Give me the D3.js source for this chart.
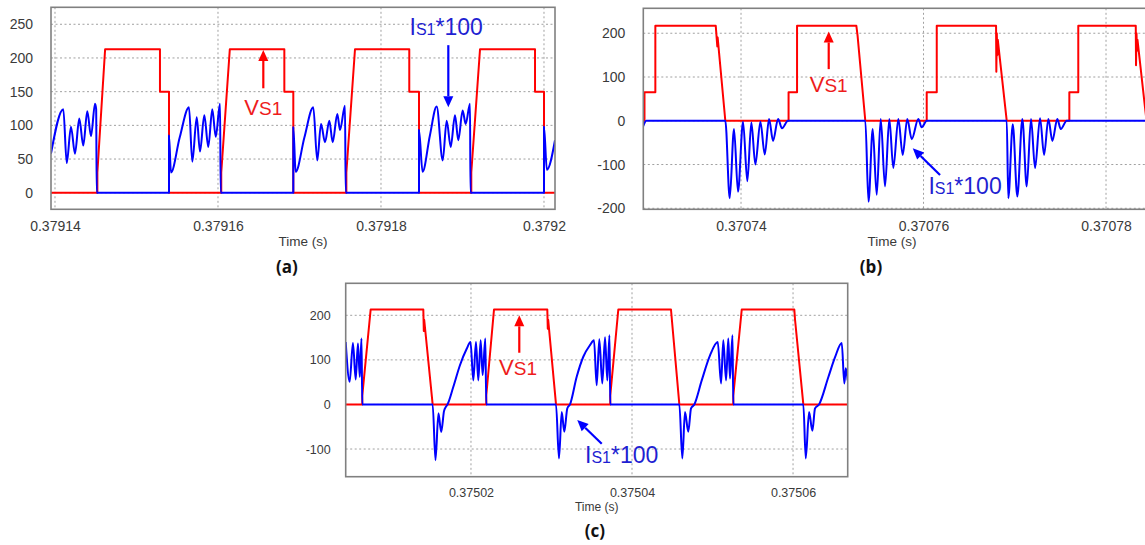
<!DOCTYPE html>
<html><head><meta charset="utf-8">
<script src="https://cdn.jsdelivr.net/npm/d3@7"></script>
<style>body{margin:0;background:#fff}svg{display:block}</style>
</head><body>
<svg id="chart" width="1145" height="545"></svg>
<script>
// ---------- data (time in s, value) ----------
const aTimeTicks = [0.37914, 0.37916, 0.37918, 0.3792];
const aValueTicks = [0, 50, 100, 150, 200, 250];
const aVs1 = [
[0.37913951,0],[0.37914520,0],[0.37914520,30],[0.37914615,213],[0.37915288,213],[0.37915288,150],[0.37915399,150],[0.37915399,0],
[0.37916040,0],[0.37916040,30],[0.37916145,213],[0.37916814,213],[0.37916814,150],[0.37916924,150],[0.37916924,0],
[0.37917575,0],[0.37917575,30],[0.37917681,213],[0.37918347,213],[0.37918347,150],[0.37918466,150],[0.37918466,0],
[0.37919108,0],[0.37919108,30],[0.37919215,213],[0.37919890,213],[0.37919890,150],[0.37920000,150],[0.37920000,0],[0.37920135,0]
];
const aIs1 = [
[0.37913951,58],[0.37914102,124],[0.37914144,44],[0.37914196,98],[0.37914245,58],[0.37914298,110],[0.37914347,70],[0.37914396,121],[0.37914442,84],[0.37914491,132],[0.37914505,124],[0.37914512,0],
[0.37915399,0],[0.37915399,85],[0.37915423,30],[0.37915530,82],[0.37915644,127],[0.37915685,46],[0.37915739,112],[0.37915779,61],[0.37915832,115],[0.37915881,68],[0.37915930,124],[0.37915972,83],[0.37916025,132],[0.37916033,0],
[0.37916924,0],[0.37916924,97],[0.37916953,31],[0.37917060,82],[0.37917169,127],[0.37917218,48],[0.37917264,102],[0.37917313,75],[0.37917366,107],[0.37917407,75],[0.37917464,117],[0.37917497,93],[0.37917558,129],[0.37917567,0],
[0.37918466,0],[0.37918466,93],[0.37918510,31],[0.37918600,85],[0.37918683,128],[0.37918757,48],[0.37918806,107],[0.37918855,68],[0.37918908,115],[0.37918948,78],[0.37919002,122],[0.37919039,102],[0.37919092,132],[0.37919098,0],
[0.37920000,0],[0.37920000,98],[0.37920035,34],[0.37920135,78]
];

const bTimeTicks = [0.37074, 0.37076, 0.37078];
const bValueTicks = [-200, -100, 0, 100, 200];
const bVs1 = [
[0.37072929,0],[0.37072942,0],[0.37072942,65],[0.37073061,65],[0.37073061,217],[0.37073723,217],[0.37073740,170],[0.37073744,190],[0.37073828,0],
[0.37074521,0],[0.37074521,65],[0.37074614,65],[0.37074614,217],[0.37075264,217],[0.37075277,195],[0.37075362,0],
[0.37076035,0],[0.37076035,65],[0.37076145,65],[0.37076145,217],[0.37076795,217],[0.37076798,112],[0.37076803,200],[0.37076809,150],[0.37076814,185],[0.37076912,0],
[0.37077598,0],[0.37077598,65],[0.37077696,65],[0.37077696,217],[0.37078326,217],[0.37078329,127],[0.37078334,200],[0.37078340,160],[0.37078345,185],[0.37078427,31],[0.37078444,0],[0.37078482,0]
];
const bIs1 = [
[0.37072929,-12],[0.37072962,0],[0.37073828,0],
[0.37073876,-177],[0.37073923,-19],[0.37073967,-162],[0.37074022,-2],[0.37074069,-138],[0.37074113,-4],[0.37074157,-100],[0.37074212,-2],[0.37074260,-77],[0.37074307,4],[0.37074351,-46],[0.37074406,4],[0.37074449,-17],[0.37074515,0],
[0.37075362,0],[0.37075397,-185],[0.37075443,-19],[0.37075487,-169],[0.37075531,4],[0.37075578,-150],[0.37075625,4],[0.37075669,-108],[0.37075724,4],[0.37075772,-78],[0.37075822,4],[0.37075871,-42],[0.37075943,4],[0.37075980,-15],[0.37076035,0],
[0.37076912,0],[0.37076929,-177],[0.37076978,-8],[0.37077028,-173],[0.37077083,4],[0.37077131,-150],[0.37077178,4],[0.37077222,-108],[0.37077277,6],[0.37077321,-78],[0.37077368,4],[0.37077412,-46],[0.37077466,4],[0.37077504,-19],[0.37077569,0],
[0.37078482,0]
];

const cTimeTicks = [0.37502, 0.37504, 0.37506];
const cValueTicks = [-100, 0, 100, 200];
const cVs1 = [
[0.37500444,0],[0.37500650,0],[0.37500650,20],[0.37500754,213],[0.37501408,213],[0.37501414,165],[0.37501419,190],[0.37501524,0],
[0.37502190,0],[0.37502190,20],[0.37502286,213],[0.37502948,213],[0.37502954,170],[0.37502959,190],[0.37503056,0],
[0.37503730,0],[0.37503730,20],[0.37503830,213],[0.37504484,213],[0.37504588,0],
[0.37505258,0],[0.37505258,20],[0.37505363,213],[0.37506016,213],[0.37506025,190],[0.37506128,0],[0.37506679,0]
];
const cIs1 = [
[0.37500444,140],[0.37500493,51],[0.37500534,138],[0.37500568,56],[0.37500596,137],[0.37500619,62],[0.37500640,148],[0.37500650,0],
[0.37501524,0],[0.37501559,-125],[0.37501596,-20],[0.37501630,-62],[0.37501665,-15],[0.37501689,-5],[0.37501708,0],
[0.37501780,39],[0.37501863,88],[0.37501947,125],[0.37501994,140],[0.37502029,54],[0.37502062,140],[0.37502091,54],[0.37502120,144],[0.37502145,66],[0.37502178,148],[0.37502190,0],
[0.37503056,0],[0.37503093,-121],[0.37503127,-17],[0.37503159,-61],[0.37503196,-9],[0.37503230,0],
[0.37503313,62],[0.37503395,107],[0.37503478,133],[0.37503528,144],[0.37503561,43],[0.37503594,146],[0.37503631,47],[0.37503665,151],[0.37503693,54],[0.37503720,155],[0.37503730,0],
[0.37504588,0],[0.37504625,-121],[0.37504658,-17],[0.37504699,-61],[0.37504733,-9],[0.37504774,0],
[0.37504866,54],[0.37504969,110],[0.37505065,140],[0.37505106,47],[0.37505134,144],[0.37505168,54],[0.37505196,148],[0.37505217,58],[0.37505248,155],[0.37505258,0],
[0.37506128,0],[0.37506158,-121],[0.37506199,-17],[0.37506240,-59],[0.37506273,-9],[0.37506323,0],
[0.37506438,61],[0.37506522,106],[0.37506605,138],[0.37506637,47],[0.37506655,81],[0.37506679,54]
];

// annotations: [time, value]
const aVsArrow = [[0.37916556,155],[0.37916556,212]], aVsText = [0.37916556,115];
const aIsArrow = [[0.37918826,219],[0.37918826,127]], aIsText = [0.37918800,234];
const bVsArrow = [[0.37074961,118],[0.37074961,204]], bVsText = [0.37074961,66];
const bIsArrow = [[0.37076181,-124],[0.37075882,-63]], bIsText = [0.37076455,-167];
const cVsArrow = [[0.37502600,116],[0.37502600,200]], cVsText = [0.37502585,66];
const cIsArrow = [[0.37503624,-88],[0.37503320,-35]], cIsText = [0.37503872,-132];

// ---------- layout ----------
const panels = [
 {id:'a', box:[51,555,7.3,209.3], xd:[0.37913951,0.37920135], yd:[-24.6,275.2], xt:aTimeTicks, yt:aValueTicks,
  vs:aVs1, is:aIs1, fs:14, tfs:13.5, xpad:12, ypad:18, tlY:246, lab:'(a)', labX:287, labY:273,
  vsA:aVsArrow, vsT:aVsText, isA:aIsArrow, isT:aIsText},
 {id:'b', box:[643.3,1150,8.3,209.3], xd:[0.37072929,0.37078482], yd:[-202.3,257], xt:bTimeTicks, yt:bValueTicks,
  vs:bVs1, is:bIs1, fs:14, tfs:13.5, xpad:12, ypad:18, tlY:246, tlX:892, lab:'(b)', labX:871, labY:273,
  vsA:bVsArrow, vsT:bVsText, isA:bIsArrow, isT:bIsText},
 {id:'c', box:[345.7,847.7,283.3,476.7], xd:[0.37500444,0.37506679], yd:[-162.1,271.8], xt:cTimeTicks, yt:cValueTicks,
  vs:cVs1, is:cIs1, fs:12.5, tfs:12, xpad:11, ypad:15, tlY:511, lab:'(c)', labX:595, labY:537,
  vsA:cVsArrow, vsT:cVsText, isA:cIsArrow, isT:cIsText}
];

const svg = d3.select('#chart');
const FONT = "'Liberation Sans', Arial, sans-serif";
const RED = '#ff0000', BLUE = '#0000ff', RTXT = '#ee1c1c', BTXT = '#1f1fd2';

function arrow(g, p1, p2, color) {
  const [x1,y1] = p1, [x2,y2] = p2;
  const ang = Math.atan2(y2-y1, x2-x1), L = 11, W = 5;
  const bx = x2 - L*Math.cos(ang), by = y2 - L*Math.sin(ang);
  g.append('line').attr('x1',x1).attr('y1',y1).attr('x2',bx).attr('y2',by)
    .attr('stroke',color).attr('stroke-width',2.2);
  const px = -Math.sin(ang)*W, py = Math.cos(ang)*W;
  g.append('path').attr('d',`M${x2},${y2}L${bx+px},${by+py}L${bx-px},${by-py}Z`).attr('fill',color);
}

panels.forEach(p => {
  const [x0,x1,y0,y1] = p.box;
  const x = d3.scaleLinear().domain(p.xd).range([x0,x1]);
  const y = d3.scaleLinear().domain(p.yd).range([y1,y0]);
  const g = svg.append('g');
  const clipId = 'clip-'+p.id;
  svg.append('clipPath').attr('id',clipId).append('rect')
    .attr('x',x0).attr('y',y0).attr('width',x1-x0).attr('height',y1-y0);

  // grid
  g.append('g').selectAll('line').data(p.xt).join('line')
    .attr('x1',d=>x(d)).attr('x2',d=>x(d)).attr('y1',y0).attr('y2',y1)
    .attr('stroke','#a0a0a0').attr('stroke-width',1).attr('stroke-dasharray','2,2.5');
  g.append('g').selectAll('line').data(p.yt).join('line')
    .attr('x1',x0).attr('x2',x1).attr('y1',d=>y(d)).attr('y2',d=>y(d))
    .attr('stroke','#a0a0a0').attr('stroke-width',1).attr('stroke-dasharray','2,2.5');

  // axes labels
  const xa = g.append('g').attr('transform',`translate(0,${y1})`)
    .call(d3.axisBottom(x).tickValues(p.xt).tickSize(0).tickPadding(p.xpad).tickFormat(d=>String(+d.toFixed(5))));
  const ya = g.append('g').attr('transform',`translate(${x0},0)`)
    .call(d3.axisLeft(y).tickValues(p.yt).tickSize(0).tickPadding(p.ypad).tickFormat(d=>String(d)));
  [xa,ya].forEach(a => {
    a.select('.domain').remove();
    a.selectAll('text').attr('font-family',FONT).attr('font-size',p.fs).attr('fill','#3a3a3a');
  });

  // lines
  const lineR = d3.line().x(d=>x(d[0])).y(d=>y(d[1]));
  const lineB = d3.line().x(d=>x(d[0])).y(d=>y(d[1])).curve(d3.curveMonotoneX);
  const lg = g.append('g').attr('clip-path',`url(#${clipId})`);
  lg.append('path').datum(p.vs).attr('d',lineR).attr('fill','none').attr('stroke',RED).attr('stroke-width',2).attr('stroke-linejoin','round');
  lg.append('path').datum(p.is).attr('d',lineB).attr('fill','none').attr('stroke',BLUE).attr('stroke-width',2).attr('stroke-linejoin','round');

  // frame
  g.append('rect').attr('x',x0).attr('y',y0).attr('width',x1-x0).attr('height',y1-y0)
    .attr('fill','none').attr('stroke','#808080').attr('stroke-width',1.6);

  // time label
  g.append('text').attr('x', p.tlX || (x0+x1)/2).attr('y',p.tlY).attr('text-anchor','middle')
    .attr('font-family',FONT).attr('font-size',p.tfs).attr('fill','#3a3a3a').text('Time (s)');
  // panel label
  g.append('text').attr('x',p.labX).attr('y',p.labY).attr('text-anchor','middle')
    .attr('font-family',"'Open Sans', 'Liberation Sans', sans-serif").attr('font-weight','bold')
    .attr('font-size',17).attr('fill','#111').text(p.lab);

  // annotations
  const P = d => [x(d[0]), y(d[1])];
  arrow(g, P(p.vsA[0]), P(p.vsA[1]), RED);
  arrow(g, P(p.isA[0]), P(p.isA[1]), BLUE);
  const vt = g.append('text').attr('x',x(p.vsT[0])).attr('y',y(p.vsT[1])).attr('text-anchor','middle')
    .attr('font-family',FONT).attr('fill',RTXT).attr('font-size',22);
  vt.append('tspan').text('V');
  vt.append('tspan').attr('font-size',19).text('S1');
  const it = g.append('text').attr('x',x(p.isT[0])).attr('y',y(p.isT[1])).attr('text-anchor','middle')
    .attr('font-family',FONT).attr('fill',BTXT).attr('font-size',23);
  it.append('tspan').text('I');
  it.append('tspan').attr('font-size',16).text('S1');
  it.append('tspan').text('*100');
});
</script>
</body></html>
